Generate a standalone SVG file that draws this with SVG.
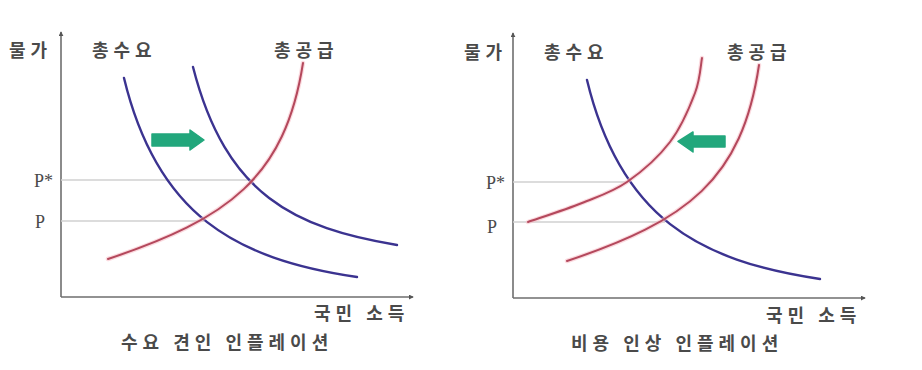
<svg xmlns="http://www.w3.org/2000/svg" width="922" height="370" viewBox="0 0 922 370">
<style>
.axis{stroke:#6e6e6e;stroke-width:1.6;fill:none}
.guide{stroke:#d0d0d0;stroke-width:1.5;fill:none}
.dem{stroke:#3b3390;stroke-width:2.4;fill:none;stroke-linecap:round}
.sup{stroke:#b4485c;stroke-width:2;fill:none;stroke-linecap:round}
.halo{stroke:#f7bcc4;stroke-width:4.5;fill:none;stroke-linecap:round;opacity:.55}
.kr{font-family:"Noto Sans CJK KR","Noto Sans",sans-serif;font-weight:700;font-size:18px;fill:#4a4a4a;letter-spacing:5px}
.pl{font-family:"Liberation Serif",serif;font-size:18px;fill:#4a4a4a}
.arr{fill:#22a77c;stroke:#22a77c;stroke-width:1.5;stroke-linejoin:round}
</style>
<defs>
<marker id="ah" viewBox="0 0 6 6" refX="5" refY="3" markerWidth="5" markerHeight="5" orient="auto" markerUnits="userSpaceOnUse">
<path d="M0,0 L6,3 L0,6 z" fill="#555"/>
</marker>
</defs>
<rect width="922" height="370" fill="#ffffff"/>

<g id="left-panel">
  <g id="left-axes">
    <path class="axis" d="M61,297 L61,32" marker-end="url(#ah)"/>
    <path class="axis" d="M61,297 L413,297" marker-end="url(#ah)"/>
    <text class="kr" x="9" y="57">물가</text>
    <text class="kr" x="314" y="320">국민 소득</text>
  </g>
  <g id="left-guides">
    <path class="guide" d="M61,180 L252,180"/>
    <path class="guide" d="M61,221 L204,221"/>
    <text class="pl" x="34" y="187">P*</text>
    <text class="pl" x="35" y="228">P</text>
  </g>
  <g id="left-demand1">
    <path class="dem" d="M124,78 C157,215 235,259 357,277"/>
    <text class="kr" x="92" y="57">총수요</text>
  </g>
  <g id="left-demand2">
    <path class="dem" d="M193,67 C226,196 295,228 397,245"/>
  </g>
  <g id="left-supply">
    <path class="halo" d="M108,259 C228,219 285,178 303,63"/>
    <path class="sup" d="M108,259 C228,219 285,178 303,63"/>
    <text class="kr" x="274" y="57">총공급</text>
  </g>
  <g id="left-shift-arrow">
    <path class="arr" d="M152,134 L190,134 L190,130 L204,140 L190,150 L190,146 L152,146 Z"/>
  </g>
  <g id="left-title">
    <text class="kr" x="121" y="349">수요 견인 인플레이션</text>
  </g>
</g>

<g id="right-panel">
  <g id="right-axes">
    <path class="axis" d="M513,298 L513,33" marker-end="url(#ah)"/>
    <path class="axis" d="M513,298 L865,298" marker-end="url(#ah)"/>
    <text class="kr" x="464" y="59">물가</text>
    <text class="kr" x="766" y="322">국민 소득</text>
  </g>
  <g id="right-guides">
    <path class="guide" d="M513,182 L627,182"/>
    <path class="guide" d="M513,222 L665,222"/>
    <text class="pl" x="486" y="189">P*</text>
    <text class="pl" x="487" y="233">P</text>
  </g>
  <g id="right-demand">
    <path class="dem" d="M587,80 C620,217 698,261 820,279"/>
    <text class="kr" x="544" y="59">총수요</text>
  </g>
  <g id="right-supply1">
    <path class="halo" d="M528,222 C537,218.8 565.5,209.7 582,203 C598.5,196.3 612.3,192.2 627,182 C641.7,171.8 658.7,156.8 670,142 C681.3,127.2 689.7,107 695,93 C700.3,79 700.8,63.8 702,58"/>
    <path class="sup" d="M528,222 C537,218.8 565.5,209.7 582,203 C598.5,196.3 612.3,192.2 627,182 C641.7,171.8 658.7,156.8 670,142 C681.3,127.2 689.7,107 695,93 C700.3,79 700.8,63.8 702,58"/>
  </g>
  <g id="right-supply2">
    <path class="halo" d="M567,261 C687,221 742,180 759,65"/>
    <path class="sup" d="M567,261 C687,221 742,180 759,65"/>
    <text class="kr" x="727" y="59">총공급</text>
  </g>
  <g id="right-shift-arrow">
    <path class="arr" d="M725,136 L693,136 L693,132 L678,141.5 L693,152 L693,147 L725,147 Z"/>
  </g>
  <g id="right-title">
    <text class="kr" x="571" y="350">비용 인상 인플레이션</text>
  </g>
</g>
</svg>
